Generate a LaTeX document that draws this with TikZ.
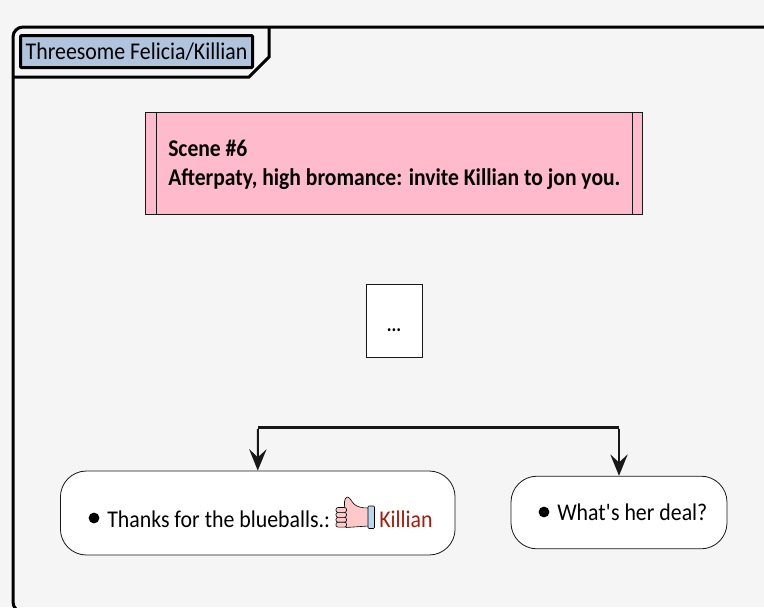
\documentclass[tikz,border=0pt]{standalone}
\usepackage{fontspec}
\setmainfont[FakeStretch=0.91, BoldFeatures={FakeStretch=0.9}]{Carlito}
\usetikzlibrary{arrows.meta}
\definecolor{pageGray}{HTML}{F5F5F5}
\definecolor{titleBlue}{HTML}{B0C4DE}
\definecolor{scenePink}{HTML}{FFBBCC}
\definecolor{skinPink}{HTML}{FFC9C9}
\definecolor{cuffBlue}{HTML}{B9D8F0}
\definecolor{nameRed}{HTML}{A81C0C}
\definecolor{lineDark}{HTML}{181818}
\tikzset{
    choiceBox/.style={draw=lineDark, fill=white, rounded corners=19.5pt, line width=0.6pt, inner sep=0pt},
    sceneBox/.style={draw=lineDark, fill=scenePink, line width=0.6pt, inner sep=0pt},
    choiceText/.style={anchor=base west, inner sep=0pt, font=\fontsize{18}{18}\selectfont},
    flowArrow/.style={-{Stealth[length=16pt, width=13pt, inset=6pt]}, draw=lineDark, line width=1.5pt, shorten <=1pt}
}
\newcommand{\drawFinger}[1]{\draw [black, fill=skinPink, line width=0.45pt, rounded corners=1.5pt] (336,#1) rectangle ++(10.5,4.9)}
\begin{document}
\begin{tikzpicture}[x=0.75pt, y=-0.75pt]
    \useasboundingbox (0,0) rectangle (764,607);
    \clip (0,0) rectangle (764,607);
    \fill [pageGray] (0,0) rectangle (764,607);

    %for outer frame
    \draw [black, line width=2.25pt, rounded corners=7.5pt] (790,612) -- (13,612) -- (13,27) -- (790,27);
    \draw [black, line width=2.25pt] (13,77) -- (249,77) -- (269,57) -- (269,27);
    \node (title) [draw=black, fill=titleBlue, line width=2.25pt, rounded corners=0.75pt, minimum width=174pt, minimum height=24pt, inner sep=0pt, font=\fontsize{18}{18}\selectfont] at (136.5,51.5) {Threesome Felicia/Killian};

    %for scene
    \node (scene) [sceneBox, minimum width=372.5pt, minimum height=76.5pt] at (393.75,163) {};
    \draw [lineDark, line width=0.6pt] (156,112) -- (156,214);
    \draw [lineDark, line width=0.6pt] (632,112) -- (632,214);
    \node (sceneText) [anchor=west, align=left, inner sep=0pt, font=\fontsize{18}{22}\selectfont\bfseries] at (168,165) {Scene \#6\\Afterpaty, high bromance: invite Killian to jon you.};

    %for dots
    \node (dots) [draw=lineDark, fill=white, line width=0.6pt, minimum width=42pt, minimum height=54.5pt, inner sep=0pt, font=\fontsize{15}{15}\selectfont\bfseries] at (394,321) {\smash{\raisebox{-8pt}{...}}};

    %for choices
    \node (thanks) [choiceBox, minimum width=296pt, minimum height=63pt] at (257.75,513) {};
    \node (deal) [choiceBox, minimum width=162pt, minimum height=54.5pt] at (619,512.5) {};

    \coordinate (splitLeft) at (258,427.5);
    \coordinate (splitRight) at (619,427.5);
    \draw [lineDark, line width=2.25pt] (splitLeft) -- (splitRight);
    \draw [flowArrow] (splitLeft) -- (thanks.north);
    \draw [flowArrow] (splitRight) -- (deal.north);

    %for thanks text
    \fill [black] (94,518) circle [radius=5.4];
    \node (thanksText) [choiceText] at (107,527) {Thanks for the blueballs.:};
    \node (killian) [choiceText, text=nameRed] at (379,527) {Killian};

    %for thumb
    \draw [black, fill=skinPink, line width=0.45pt] (345,509) .. controls (344,503) and (344,499) .. (347,497) .. controls (350,497) and (351,501) .. (354,504) .. controls (357,507) and (362,508) .. (368.5,508) -- (368.5,526) -- (346,527.5) -- cycle;
    \drawFinger{507.5};
    \drawFinger{512.4};
    \drawFinger{517.3};
    \drawFinger{522.2};
    \draw [black, fill=cuffBlue, line width=0.45pt, rounded corners=0.75pt] (368,506) rectangle (374.5,528.5);

    %for deal text
    \fill [black] (544,512) circle [radius=5.4];
    \node (dealText) [choiceText] at (557,520.5) {What\textquotesingle s her deal?};
\end{tikzpicture}
\end{document}
